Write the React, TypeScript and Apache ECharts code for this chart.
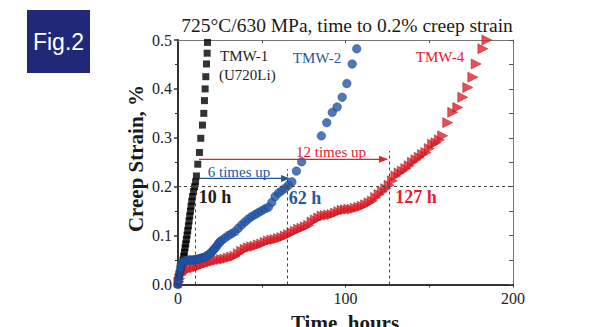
import React, { useEffect, useRef } from "react";
import * as echarts from "echarts";

const TITLE = "725°C/630 MPa, time to 0.2% creep strain";
const X_TICKS = [0, 100, 200];
const Y_TICKS = [0.0, 0.1, 0.2, 0.3, 0.4, 0.5];

const TMW1: [number, number][] = [
  [0, 0], [0.3, 0.008], [0.6, 0.016], [1.0, 0.024], [1.5, 0.03], [2.0, 0.036], [2.5, 0.042],
  [3.0, 0.05], [3.4, 0.058], [3.8, 0.066], [4.2, 0.075], [4.6, 0.083], [5.0, 0.092],
  [5.4, 0.101], [5.8, 0.11], [6.2, 0.12], [6.6, 0.13], [7.0, 0.14], [7.4, 0.15], [7.8, 0.16],
  [8.2, 0.17], [8.7, 0.18], [9.3, 0.19], [9.9, 0.2], [10.5, 0.21], [11.0, 0.222],
  [11.8, 0.246], [12.8, 0.27], [13.6, 0.299], [14.6, 0.326], [15.4, 0.35], [15.8, 0.376],
  [16.2, 0.4], [16.6, 0.425], [17.0, 0.451], [17.4, 0.473], [17.6, 0.495],
];

const TMW2: [number, number][] = [
  [0, 0], [0.5, 0.01], [1, 0.025], [1.5, 0.035], [2, 0.042], [3, 0.047], [4, 0.048],
  [5, 0.049], [6, 0.05], [7, 0.05], [8, 0.05], [9, 0.05], [10, 0.051], [11, 0.051],
  [12, 0.052], [13, 0.053], [14, 0.054], [15, 0.055], [16, 0.056], [17, 0.058], [18, 0.06],
  [19, 0.063], [20, 0.066], [21, 0.07], [22, 0.074], [23, 0.078], [24, 0.083], [25, 0.087],
  [26, 0.09], [28, 0.095], [30, 0.1], [32, 0.104], [34, 0.108], [36, 0.115], [38, 0.122],
  [40, 0.128], [42, 0.134], [44, 0.139], [46, 0.143], [48, 0.147], [50, 0.151], [52, 0.155],
  [54, 0.158], [56, 0.168], [58, 0.18], [60, 0.187], [62, 0.192], [64, 0.197], [66, 0.203],
  [68, 0.21], [70.7, 0.232], [73.8, 0.251], [85.6, 0.304], [88.8, 0.331], [92.1, 0.352],
  [95, 0.363], [98, 0.383], [100.8, 0.411], [104, 0.451], [106.7, 0.482],
];

const TMW4: [number, number][] = [
  [0.5, 0.005], [1, 0.012], [2, 0.02], [3, 0.025], [4, 0.028], [6, 0.031], [8, 0.033],
  [10, 0.034], [12, 0.037], [14, 0.039], [16, 0.042], [18, 0.044], [20, 0.046], [22, 0.048],
  [24, 0.05], [26, 0.051], [28, 0.052], [30, 0.054], [32, 0.056], [34, 0.058], [36, 0.063],
  [38, 0.068], [40, 0.072], [42, 0.075], [44, 0.077], [46, 0.078], [48, 0.081], [50, 0.083],
  [52, 0.086], [54, 0.089], [56, 0.091], [58, 0.092], [60, 0.094], [62, 0.096], [64, 0.099],
  [66, 0.102], [68, 0.106], [70, 0.109], [72, 0.113], [74, 0.115], [76, 0.118], [78, 0.121],
  [80, 0.128], [82, 0.132], [84, 0.136], [86, 0.14], [88, 0.141], [90, 0.142], [92, 0.143],
  [94, 0.146], [96, 0.149], [98, 0.152], [100, 0.153], [102, 0.154], [104, 0.154],
  [106, 0.156], [108, 0.158], [110, 0.16], [112, 0.163], [114, 0.167], [116, 0.171],
  [118, 0.178], [120, 0.184], [122, 0.19], [124, 0.196], [126, 0.203], [128, 0.212],
  [130, 0.222], [132, 0.228], [134, 0.232], [136, 0.237], [138, 0.243], [140, 0.25],
  [142, 0.255], [144, 0.26], [146, 0.266], [148, 0.27], [150, 0.278], [152, 0.287],
  [154, 0.29], [156, 0.296], [158, 0.304], [161, 0.331], [164, 0.352], [167, 0.362],
  [170, 0.383], [173, 0.403], [176, 0.424], [178, 0.451], [182, 0.482], [184.4, 0.5],
];

// annotation values (hours / strain)
const TARGET_STRAIN = 0.2;
const T_TMW1 = 10;
const T_TMW2 = 65.5;
const T_TMW4 = 126;
const ARROW_BLUE: [number, number, number] = [12.5, 66, 0.217];
const ARROW_RED: [number, number, number] = [12.5, 124.5, 0.256];

const BLUE = "#2456a6";
const RED = "#e3202b";
const SERIF = "Liberation Serif, Times New Roman, serif";

function arrowSeries(name: string, a: [number, number, number], color: string) {
  return {
    name,
    type: "line",
    silent: true,
    z: 5,
    showSymbol: true,
    lineStyle: { color, width: 1.3 },
    itemStyle: { color, borderWidth: 0 },
    data: [
      { value: [a[0], a[2]], symbol: "none" },
      { value: [a[1], a[2]], symbol: "triangle", symbolRotate: -90, symbolSize: [7, 9], symbolOffset: [-3, 0] },
    ],
  };
}

export default function App() {
  const ref = useRef<HTMLDivElement>(null);
  useEffect(() => {
    if (!ref.current) return;
    const chart = echarts.init(ref.current, undefined, { renderer: "svg" });
    const txt = (x: number, y: number, text: string, size: number, color: string, opts: any = {}) => ({
      type: "text",
      x,
      y,
      z: 100,
      style: {
        text,
        fill: color,
        font: `${opts.bold ? "bold " : ""}${size}px ${opts.family || SERIF}`,
        textAlign: opts.align || "center",
        textVerticalAlign: opts.valign || "middle",
      },
      rotation: opts.rotation || 0,
    });
    chart.setOption({
      animation: false,
      grid: { left: 178, top: 40, width: 335, height: 244.5 },
      xAxis: [
        {
          type: "value",
          min: 0,
          max: 200,
          interval: 100,
          axisLine: { show: true, lineStyle: { color: "#333", width: 2 } },
          axisTick: { show: true, inside: false, length: 3, lineStyle: { color: "#333" } },
          minorTick: { show: true, splitNumber: 2, length: 3, lineStyle: { color: "#333" } },
          axisLabel: {
            color: "#222",
            fontFamily: SERIF,
            fontSize: 16,
            margin: 6,
            formatter: (v: number) => (X_TICKS.includes(v) ? String(v) : ""),
          },
          splitLine: { show: false },
        },
        {
          type: "value",
          position: "top",
          min: 0,
          max: 200,
          interval: 50,
          axisLine: { show: true, onZero: false, lineStyle: { color: "#777", width: 1 } },
          axisTick: { show: true, inside: true, length: 3, lineStyle: { color: "#555" } },
          axisLabel: { show: false },
          splitLine: { show: false },
        },
      ],
      yAxis: [
        {
          type: "value",
          min: 0,
          max: 0.5,
          interval: 0.1,
          axisLine: { show: true, lineStyle: { color: "#333", width: 2 } },
          axisTick: { show: true, inside: false, length: 4, lineStyle: { color: "#333", width: 1.5 } },
          minorTick: { show: true, splitNumber: 2, length: 3, lineStyle: { color: "#333" } },
          axisLabel: {
            color: "#222",
            fontFamily: SERIF,
            fontSize: 16,
            margin: 6,
            formatter: (v: number) => (Y_TICKS.some((t) => Math.abs(t - v) < 1e-9) ? v.toFixed(1) : ""),
          },
          splitLine: { show: false },
        },
        {
          type: "value",
          position: "right",
          min: 0,
          max: 0.5,
          interval: 0.05,
          axisLine: { show: true, onZero: false, lineStyle: { color: "#777", width: 1 } },
          axisTick: { show: true, inside: true, length: 4, lineStyle: { color: "#555" } },
          axisLabel: { show: false },
          splitLine: { show: false },
        },
      ],
      series: [
        {
          name: "guides",
          type: "line",
          data: [],
          markLine: {
            silent: true,
            symbol: ["none", "none"],
            label: { show: false },
            lineStyle: { color: "#444", type: [3, 3], width: 1 },
            data: [
              [{ coord: [0, TARGET_STRAIN] }, { coord: [200, TARGET_STRAIN] }],
              [{ coord: [T_TMW1, 0] }, { coord: [T_TMW1, 0.205] }],
              [{ coord: [T_TMW2, 0] }, { coord: [T_TMW2, 0.236] }],
              [{ coord: [T_TMW4, 0] }, { coord: [T_TMW4, 0.273] }],
            ],
          },
        },
        {
          name: "TMW-1",
          type: "scatter",
          symbol: "rect",
          symbolSize: 7,
          itemStyle: { color: "#000" },
          data: TMW1,
          z: 3,
        },
        {
          name: "TMW-2",
          type: "scatter",
          symbol: "circle",
          symbolSize: 8.5,
          itemStyle: { color: BLUE, borderColor: "#1b3f85", borderWidth: 0.6 },
          data: TMW2,
          z: 4,
        },
        {
          name: "TMW-4",
          type: "scatter",
          symbol: "triangle",
          symbolRotate: -90,
          symbolSize: 10,
          itemStyle: { color: RED, borderColor: "#a8141c", borderWidth: 0.6 },
          data: TMW4,
          z: 2,
        },
        arrowSeries("arrow-blue", ARROW_BLUE, BLUE),
        arrowSeries("arrow-red", ARROW_RED, RED),
      ],
      graphic: [
        {
          type: "rect",
          shape: { x: 27, y: 10, width: 63, height: 63 },
          style: { fill: "#212878" },
        },
        txt(58.5, 41.5, "Fig.2", 23, "#fff", { family: "Liberation Sans, Arial, sans-serif" }),
        txt(347, 25, TITLE, 19.5, "#1a1a1a"),
        txt(220, 56, "TMW-1", 15, "#222", { align: "left" }),
        txt(219, 75, "(U720Li)", 15, "#222", { align: "left" }),
        txt(317, 58, "TMW-2", 15, BLUE),
        txt(440, 57, "TMW-4", 15, RED),
        txt(239, 171.5, "6 times up", 15, BLUE),
        txt(331, 152, "12 times up", 15, RED),
        txt(215, 197, "10 h", 18, "#1a1a1a", { bold: true }),
        txt(305, 198, "62 h", 18, BLUE, { bold: true }),
        txt(416, 197, "127 h", 18, RED, { bold: true }),
        txt(135.5, 158.5, "Creep Strain, %", 21, "#1a1a1a", { bold: true, rotation: Math.PI / 2 }),
        txt(345, 312, "Time, hours", 21, "#1a1a1a", { bold: true, valign: "top" }),
      ],
    });
    return () => chart.dispose();
  }, []);
  return (
    <div
      ref={ref}
      style={{ position: "fixed", left: 0, top: 0, width: 604, height: 327, background: "#fff" }}
    />
  );
}
